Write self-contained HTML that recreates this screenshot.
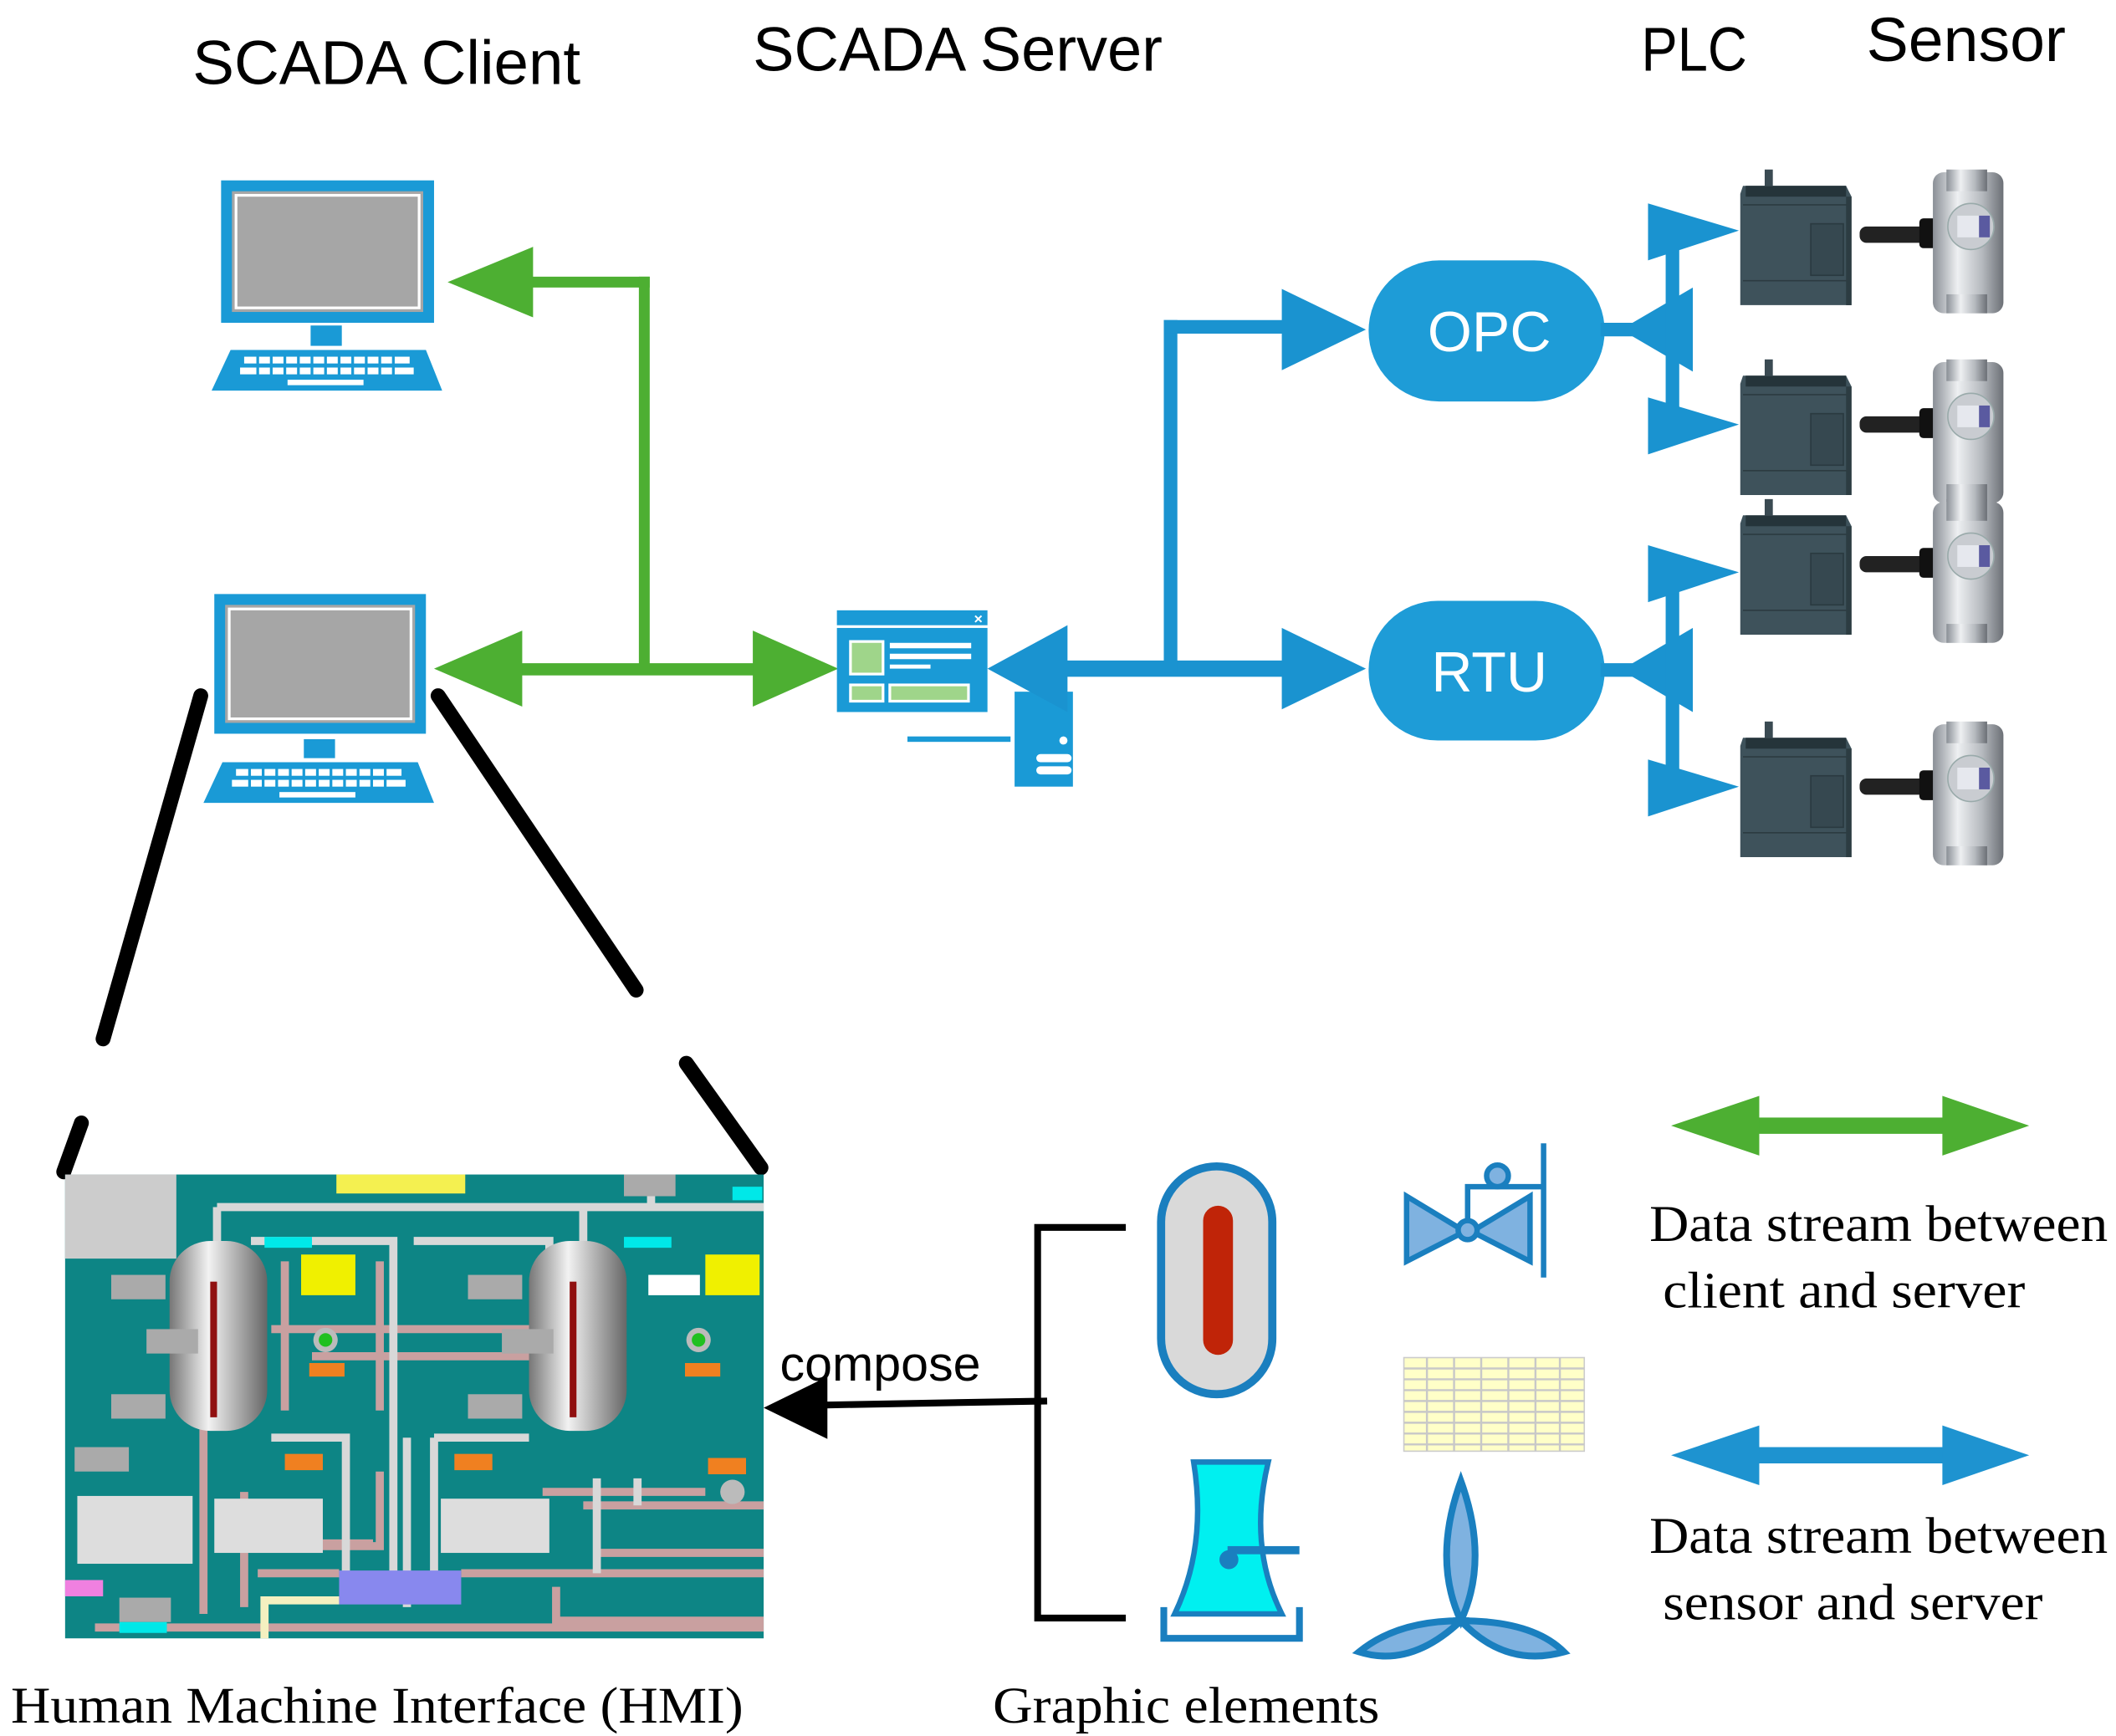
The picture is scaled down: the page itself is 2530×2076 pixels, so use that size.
<!DOCTYPE html>
<html><head><meta charset="utf-8"><style>html,body{margin:0;padding:0;background:#fff}svg{display:block}</style></head>
<body>
<svg width="2530" height="2076" viewBox="0 0 1560 1280" preserveAspectRatio="none" xmlns="http://www.w3.org/2000/svg">
<defs>
<linearGradient id="met" x1="0" x2="1"><stop offset="0" stop-color="#8a8f96"/><stop offset="0.35" stop-color="#eef0f2"/><stop offset="0.7" stop-color="#b5b9be"/><stop offset="1" stop-color="#6c7076"/></linearGradient>
<linearGradient id="tk" x1="0" x2="1"><stop offset="0" stop-color="#777"/><stop offset="0.4" stop-color="#f2f2f2"/><stop offset="1" stop-color="#666"/></linearGradient>
<g id="plc">
<rect x="18" y="0" width="6" height="12" fill="#3a4a52"/>
<path d="M2 12 L78 12 L82 20 L82 100 L0 100 L0 18 Z" fill="#3e525b"/>
<rect x="4" y="12" width="74" height="8" fill="#25343a"/>
<line x1="2" y1="26" x2="80" y2="26" stroke="#2c3b41" stroke-width="1"/>
<line x1="2" y1="82" x2="80" y2="82" stroke="#2c3b41" stroke-width="1"/>
<rect x="52" y="40" width="24" height="38" fill="#364850" stroke="#2a3a40"/>
<rect x="78" y="20" width="4" height="80" fill="#2c3c42"/>
<g>
<rect x="88" y="42" width="50" height="12" rx="5" fill="#222"/>
<rect x="132" y="36" width="14" height="22" rx="3" fill="#111"/>
<rect x="142" y="2" width="52" height="104" rx="8" fill="url(#met)"/>
<rect x="152" y="0" width="30" height="16" fill="url(#met)"/>
<rect x="152" y="92" width="30" height="14" fill="url(#met)"/>
<circle cx="170" cy="42" r="17" fill="#c9ccd1" stroke="#9aa" stroke-width="1"/>
<rect x="160" y="34" width="22" height="16" fill="#e6e8ee"/>
<rect x="176" y="34" width="8" height="16" fill="#5a5aa0"/>
</g>
</g>
<g id="kb">
</g>
</defs>

<!-- Titles -->
<g font-family="Liberation Sans, sans-serif" fill="#000">
<text x="142" y="62" font-size="46" textLength="286" lengthAdjust="spacingAndGlyphs">SCADA Client</text>
<text x="555" y="52" font-size="46" textLength="302" lengthAdjust="spacingAndGlyphs">SCADA Server</text>
<text x="1210" y="52" font-size="46" textLength="78" lengthAdjust="spacingAndGlyphs">PLC</text>
<text x="1376" y="45" font-size="46" textLength="147" lengthAdjust="spacingAndGlyphs">Sensor</text>
</g>

<!-- Monitor 1 -->
<rect x="167" y="137" width="149" height="97" fill="#a6a6a6" stroke="#1a9ad6" stroke-width="8"/>
<rect x="174" y="144" width="135" height="83" fill="none" stroke="#fff" stroke-width="2"/>
<rect x="229" y="240" width="23" height="15" fill="#1a9ad6"/>
<path d="M170 258 L314 258 L326 288 L156 288 Z" fill="#1a9ad6"/>
<g fill="#fff">
<rect x="180" y="263" width="122" height="5"/><rect x="177" y="271" width="128" height="5"/><rect x="212" y="280" width="56" height="4"/>
</g>
<g stroke="#1a9ad6" stroke-width="2"><path d="M190 262v16M200 262v16M210 262v16M220 262v16M230 262v16M240 262v16M250 262v16M260 262v16M270 262v16M280 262v16M290 262v16"/></g>

<!-- Monitor 2 -->
<rect x="162" y="442" width="148" height="95" fill="#a6a6a6" stroke="#1a9ad6" stroke-width="8"/>
<rect x="169" y="449" width="134" height="81" fill="none" stroke="#fff" stroke-width="2"/>
<rect x="224" y="545" width="23" height="14" fill="#1a9ad6"/>
<path d="M164 562 L308 562 L320 592 L150 592 Z" fill="#1a9ad6"/>
<g fill="#fff">
<rect x="174" y="567" width="122" height="5"/><rect x="171" y="575" width="128" height="5"/><rect x="206" y="584" width="56" height="4"/>
</g>
<g stroke="#1a9ad6" stroke-width="2"><path d="M184 566v16M194 566v16M204 566v16M214 566v16M224 566v16M234 566v16M244 566v16M254 566v16M264 566v16M274 566v16M284 566v16"/></g>

<!-- Green arrows -->
<g fill="#4daf32" stroke="none">
<rect x="390" y="204" width="89" height="8"/>
<rect x="471" y="204" width="8" height="293"/>
<polygon points="330,208 393,182 393,234"/>
<rect x="380" y="489" width="180" height="9"/>
<polygon points="320,493 385,465 385,521"/>
<polygon points="618,493 555,465 555,521"/>
</g>

<!-- Server icon -->
<rect x="617" y="450" width="111" height="11" fill="#1a9ad6"/>
<text x="718" y="460" font-family="Liberation Sans, sans-serif" font-size="11" fill="#fff" font-weight="bold">×</text>
<rect x="617" y="463" width="111" height="62" fill="#1a9ad6"/>
<rect x="627" y="473" width="24" height="24" fill="#9fd58a" stroke="#fff" stroke-width="2"/>
<rect x="656" y="474" width="60" height="4" fill="#fff"/><rect x="656" y="482" width="60" height="4" fill="#fff"/><rect x="656" y="490" width="30" height="3" fill="#fff"/>
<rect x="627" y="505" width="24" height="12" fill="#9fd58a" stroke="#fff" stroke-width="2"/>
<rect x="656" y="505" width="58" height="12" fill="#9fd58a" stroke="#fff" stroke-width="2"/>
<rect x="669" y="543" width="76" height="4" fill="#1a9ad6"/>
<rect x="748" y="510" width="43" height="70" fill="#1a9ad6"/>
<circle cx="784" cy="546" r="3" fill="#fff"/>
<rect x="764" y="556" width="26" height="6" rx="3" fill="#fff"/><rect x="764" y="565" width="26" height="6" rx="3" fill="#fff"/>

<!-- Blue arrows -->
<g fill="#1a93d0">
<polygon points="728,493 787,461 787,525"/>
<rect x="785" y="487" width="165" height="12"/>
<polygon points="1007,493 945,463 945,523"/>
<rect x="858" y="236" width="10" height="260"/>
<rect x="858" y="236" width="90" height="10"/>
<polygon points="1007,243 945,213 945,273"/>
</g>
<rect x="1009" y="192" width="174" height="104" rx="52" fill="#1e9cd7"/>
<rect x="1009" y="443" width="174" height="103" rx="51" fill="#1e9cd7"/>
<g font-family="Liberation Sans, sans-serif" font-size="42" fill="#fff" text-anchor="middle">
<text x="1098" y="259">OPC</text><text x="1098" y="510">RTU</text>
</g>
<g fill="#1a93d0">
<rect x="1180" y="238" width="55" height="10"/>
<polygon points="1195,243 1248,212 1248,274"/>
<rect x="1228" y="168" width="10" height="148"/>
<polygon points="1282,170 1215,150 1215,192"/>
<polygon points="1282,313 1215,293 1215,335"/>
<rect x="1180" y="489" width="55" height="10"/>
<polygon points="1195,494 1248,463 1248,525"/>
<rect x="1228" y="420" width="10" height="162"/>
<polygon points="1282,422 1215,402 1215,444"/>
<polygon points="1282,580 1215,560 1215,602"/>
</g>
<use href="#plc" transform="translate(1283,125)"/>
<use href="#plc" transform="translate(1283,265)"/>
<use href="#plc" transform="translate(1283,368)"/>
<use href="#plc" transform="translate(1283,532)"/>

<!-- zoom lines -->
<g stroke="#000" stroke-width="11" stroke-linecap="round">
<line x1="148" y1="513" x2="76" y2="766"/>
<line x1="323" y1="513" x2="469" y2="730"/>
<line x1="60" y1="828" x2="47" y2="864"/>
<line x1="506" y1="784" x2="561" y2="861"/>
</g>

<!-- HMI -->
<rect x="48" y="866" width="515" height="342" fill="#0d8585"/>
<g fill="none" stroke-width="6">
<g stroke="#c9a0a0">
<path d="M70 1200 H563 M150 1190 V930 M180 1185 V1100 M230 1000 H390 M200 980 H460 M190 1160 H250 M340 1160 H563 M440 1145 H563 M410 1170 V1195 H563 M430 1110 H563 M210 930 V1040 M280 930 V1040 M210 1140 H280 V1085 M400 1100 H520 M175 1138 H275"/>
</g>
<g stroke="#d8d8d8">
<path d="M160 890 V930 M160 890 H563 M480 875 V890 M430 890 V935 M185 915 H290 V1170 M305 915 H405 V935 M300 1185 V1060 M200 1060 H255 V1170 M320 1060 H390 M320 1060 V1170 M440 1090 V1160 M470 1090 V1110"/>
</g>
<path stroke="#f4f0c0" d="M195 1208 V1180 H250"/>
</g>
<rect x="125" y="915" width="72" height="140" rx="30" fill="url(#tk)"/>
<rect x="390" y="915" width="72" height="140" rx="30" fill="url(#tk)"/>
<rect x="155" y="945" width="5" height="100" fill="#901010"/>
<rect x="420" y="945" width="5" height="100" fill="#901010"/>
<rect x="48" y="866" width="82" height="62" fill="#ccc"/>
<rect x="248" y="866" width="95" height="14" fill="#f4f050"/>
<rect x="222" y="925" width="40" height="30" fill="#f0f000"/>
<rect x="520" y="925" width="40" height="30" fill="#f0f000"/>
<rect x="478" y="940" width="38" height="15" fill="#fff"/>
<rect x="250" y="1158" width="90" height="25" fill="#8888ee"/>
<rect x="57" y="1103" width="85" height="50" fill="#ddd"/>
<rect x="158" y="1105" width="80" height="40" fill="#ddd"/>
<rect x="325" y="1105" width="80" height="40" fill="#ddd"/>
<g fill="#aaa"><rect x="82" y="940" width="40" height="18"/><rect x="108" y="980" width="38" height="18"/><rect x="82" y="1028" width="40" height="18"/><rect x="345" y="940" width="40" height="18"/><rect x="370" y="980" width="38" height="18"/><rect x="345" y="1028" width="40" height="18"/><rect x="55" y="1067" width="40" height="18"/><rect x="88" y="1178" width="38" height="18"/><rect x="460" y="866" width="38" height="16"/></g>
<g fill="#f08020"><rect x="228" y="1005" width="26" height="10"/><rect x="505" y="1005" width="26" height="10"/><rect x="210" y="1072" width="28" height="12"/><rect x="335" y="1072" width="28" height="12"/><rect x="522" y="1075" width="28" height="12"/></g>
<g fill="#00e8e8"><rect x="195" y="912" width="35" height="8"/><rect x="460" y="912" width="35" height="8"/><rect x="540" y="875" width="22" height="10"/><rect x="88" y="1196" width="35" height="8"/></g>
<rect x="48" y="1165" width="28" height="12" fill="#f080e0"/>
<circle cx="240" cy="988" r="9" fill="#bbb"/><circle cx="240" cy="988" r="5" fill="#20c020"/>
<circle cx="515" cy="988" r="9" fill="#bbb"/><circle cx="515" cy="988" r="5" fill="#20c020"/>
<circle cx="540" cy="1100" r="9" fill="#bbb"/>

<!-- compose -->
<g stroke="#000" stroke-width="5" fill="none">
<path d="M830 905 H765 V1193 H830"/>
<line x1="772" y1="1033" x2="605" y2="1036"/>
</g>
<polygon points="563,1038 610,1015 610,1061" fill="#000"/>
<text x="575" y="1018" font-family="Liberation Sans, sans-serif" font-size="36" textLength="148" lengthAdjust="spacingAndGlyphs">compose</text>

<!-- graphic elements -->
<rect x="856" y="860" width="82" height="168" rx="41" fill="#d9d9d9" stroke="#1a7fbf" stroke-width="6"/>
<rect x="887" y="889" width="22" height="110" rx="11" fill="#c02408"/>
<g stroke="#1a7fbf" stroke-width="4" fill="#7fb2e0">
<polygon points="1037,882 1080,908 1037,930"/>
<polygon points="1128,882 1085,908 1128,930"/>
<line x1="1138" y1="843" x2="1138" y2="942" fill="none"/>
<path d="M1082 905 V875 H1138" fill="none"/>
<circle cx="1104" cy="867" r="8"/>
<circle cx="1082" cy="907" r="7"/>
</g>
<rect x="1035" y="1001" width="133" height="69" fill="#ffffc8" stroke="#ccc" stroke-width="1"/>
<g stroke="#c8c8c8" stroke-width="1.5"><path d="M1035 1009H1168M1035 1017H1168M1035 1025H1168M1035 1033H1168M1035 1041H1168M1035 1049H1168M1035 1057H1168M1035 1065H1168M1052 1001V1070M1072 1001V1070M1092 1001V1070M1112 1001V1070M1132 1001V1070M1150 1001V1070"/></g>
<path d="M880 1078 H935 Q920 1140 945 1190 H866 Q890 1140 880 1078 Z" fill="#00f0f0" stroke="#1a7fbf" stroke-width="4"/>
<path d="M858 1185 V1208 H958 V1185" fill="none" stroke="#1a7fbf" stroke-width="5"/>
<rect x="905" y="1140" width="53" height="6" fill="#1a7fbf"/>
<circle cx="906" cy="1150" r="7" fill="#1a7fbf"/>
<g fill="#7fb2e0" stroke="#1a7fbf" stroke-width="5">
<path d="M1077 1092 Q1098 1150 1077 1195 Q1056 1150 1077 1092 Z"/>
<path d="M1077 1195 Q1030 1195 1002 1218 Q1040 1230 1077 1195 Z"/>
<path d="M1077 1195 Q1130 1195 1153 1218 Q1110 1230 1077 1195 Z"/>
</g>

<!-- legend -->
<g fill="#4daf32"><rect x="1290" y="824" width="148" height="12"/><polygon points="1232,830 1297,808 1297,852"/><polygon points="1496,830 1432,808 1432,852"/></g>
<g fill="#1e93d0"><rect x="1290" y="1067" width="148" height="12"/><polygon points="1232,1073 1297,1051 1297,1095"/><polygon points="1496,1073 1432,1051 1432,1095"/></g>
<g font-family="Liberation Serif, serif" font-size="38" fill="#000">
<text x="1216" y="915" textLength="338" lengthAdjust="spacingAndGlyphs">Data stream between</text>
<text x="1226" y="964" textLength="267" lengthAdjust="spacingAndGlyphs">client and server</text>
<text x="1216" y="1145" textLength="338" lengthAdjust="spacingAndGlyphs">Data stream between</text>
<text x="1226" y="1194" textLength="280" lengthAdjust="spacingAndGlyphs">sensor and server</text>
<text x="8" y="1270" textLength="540" lengthAdjust="spacingAndGlyphs">Human Machine Interface (HMI)</text>
<text x="732" y="1270" textLength="285" lengthAdjust="spacingAndGlyphs">Graphic elements</text>
</g>
</svg>
</body></html>
